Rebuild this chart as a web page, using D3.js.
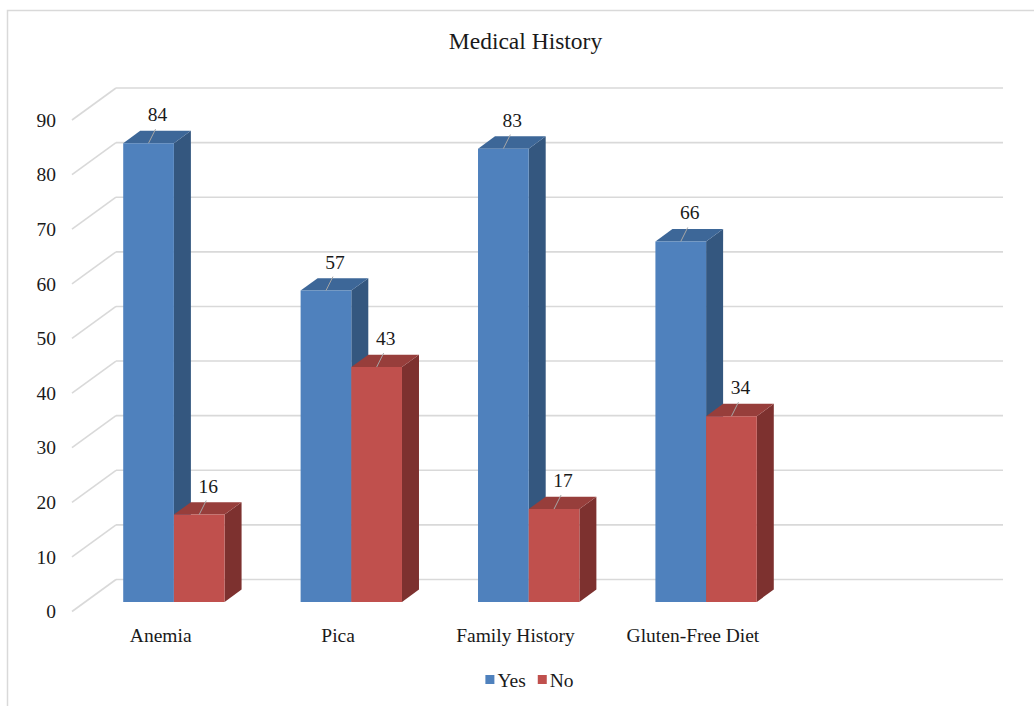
<!DOCTYPE html>
<html>
<head>
<meta charset="utf-8">
<script src="https://cdn.jsdelivr.net/npm/d3@7"></script>
<style>
  html, body { margin: 0; padding: 0; background: #fff; }
  svg { display: block; }
  text { font-family: "Liberation Serif", "Times New Roman", serif; fill: #1a1a1a; }
</style>
</head>
<body>
<svg id="chart" width="1034" height="706"></svg>
<script>
// Survey answers per medical-history question
const categories = ["Anemia", "Pica", "Family History", "Gluten-Free Diet"];
const seriesNames = ["Yes", "No"];
const yesValues = [84, 57, 83, 66];
const noValues = [16, 43, 17, 34];
const yTicks = [0, 10, 20, 30, 40, 50, 60, 70, 80, 90];
const title = "Medical History";

const palette = {
  Yes: { front: "#4F81BD", top: "#3D6798", side: "#34577F" },
  No:  { front: "#C0504D", top: "#973E3B", side: "#7D312F" }
};

const svg = d3.select("#chart");

// Oblique 3D projection: depth t in [0,1] shifts points right and up
const depth = { dx: 44, dy: 32 };
const slots = 5;                     // category slots on the floor (last one empty)
const frontLeft = 72, frontRight = 959;

const yBack = d3.scaleLinear().domain([0, 90]).range([579.5, 88]);
const yFront = d3.scaleLinear().domain([0, 90]).range([579.5 + depth.dy, 88 + depth.dy]);
const xBand = d3.scaleBand().domain(d3.range(slots)).range([frontLeft, frontRight]).paddingInner(0).paddingOuter(0);

const proj = (x, v, t) => [x + depth.dx * t, yBack(v) + depth.dy * (1 - t)];

// chart border
svg.append("rect")
  .attr("x", 7.5).attr("y", 10.5).attr("width", 1040).attr("height", 710)
  .attr("fill", "none").attr("stroke", "#D9D9D9").attr("stroke-width", 1.5);

// title
svg.append("text")
  .attr("x", 525.5).attr("y", 48.5)
  .attr("text-anchor", "middle")
  .style("font-size", "23.5px")
  .text(title);

// gridlines: back wall and left wall diagonals
const grid = svg.append("g").attr("fill", "none").attr("stroke", "#D9D9D9").attr("stroke-width", 1.6);
yTicks.forEach(v => {
  const [bx, by] = proj(frontLeft, v, 1);
  const [fx, fy] = proj(frontLeft, v, 0);
  grid.append("line").attr("x1", bx).attr("y1", by).attr("x2", proj(frontRight, v, 1)[0]).attr("y2", by);
  grid.append("line").attr("x1", fx).attr("y1", fy).attr("x2", bx).attr("y2", by);
});

// value axis labels on the front plane
const yAxis = d3.axisLeft(yFront).tickValues(yTicks).tickSize(0).tickPadding(0);
const yg = svg.append("g").attr("transform", "translate(56,0)").call(yAxis);
yg.select(".domain").remove();
yg.selectAll("text").style("font-size", "19.5px").style("font-family", "Liberation Serif, serif").attr("fill", "#1a1a1a");

// category axis labels
const xAxis = d3.axisBottom(xBand).tickSize(0).tickPadding(16.5)
  .tickFormat(i => categories[i] || "");
const xg = svg.append("g").attr("transform", `translate(0,${yFront(0)})`).call(xAxis);
xg.select(".domain").remove();
xg.selectAll("text").style("font-size", "19.5px").style("font-family", "Liberation Serif, serif").attr("fill", "#1a1a1a");

// bars
const barW = xBand.bandwidth() / 3.5;   // gap width 150%
const t0 = 0.3, t1 = t0 + 17 / depth.dx;
const bars = svg.append("g");
const labels = svg.append("g");

const rows = categories.map((c, i) => ({ i, values: [yesValues[i], noValues[i]] }));
rows.forEach(r => {
  const cx = xBand(r.i) + xBand.bandwidth() / 2;
  r.values.forEach((v, s) => {
    const name = seriesNames[s];
    const col = palette[name];
    const xl = cx - barW + s * barW, xr = xl + barW;
    const fTL = proj(xl, v, t0), fTR = proj(xr, v, t0), fBR = proj(xr, 0, t0), fBL = proj(xl, 0, t0);
    const bTL = proj(xl, v, t1), bTR = proj(xr, v, t1), bBR = proj(xr, 0, t1);
    const poly = pts => pts.map(p => p.join(",")).join(" ");
    const g = bars.append("g");
    g.append("polygon").attr("points", poly([fTR, bTR, bBR, fBR])).attr("fill", col.side);
    g.append("polygon").attr("points", poly([fTL, fTR, bTR, bTL])).attr("fill", col.top);
    g.append("polygon").attr("points", poly([fTL, fTR, fBR, fBL])).attr("fill", col.front);

    // value label with leader line
    const mx = (fTL[0] + fTR[0]) / 2, my = fTL[1];
    labels.append("line")
      .attr("x1", mx).attr("y1", my).attr("x2", mx + 7).attr("y2", my - 14)
      .attr("stroke", "#A6A6A6").attr("stroke-width", 1);
    labels.append("text")
      .attr("x", mx + 9).attr("y", my - 22)
      .attr("text-anchor", "middle")
      .style("font-size", "19.5px")
      .text(v);
  });
});

// legend
const legend = svg.append("g");
let lx = 0;
seriesNames.forEach((name, s) => {
  const item = legend.append("g").attr("transform", `translate(${lx},0)`);
  item.append("rect").attr("x", 0).attr("y", -11.5).attr("width", 9).attr("height", 9).attr("fill", palette[name].front);
  const t = item.append("text").attr("x", 12).attr("y", 0).style("font-size", "19.5px").text(name);
  lx += 12 + t.node().getComputedTextLength() + 12;
});
const lw = lx - 12;
legend.attr("transform", `translate(${529.5 - lw / 2},686.5)`);
</script>
</body>
</html>
